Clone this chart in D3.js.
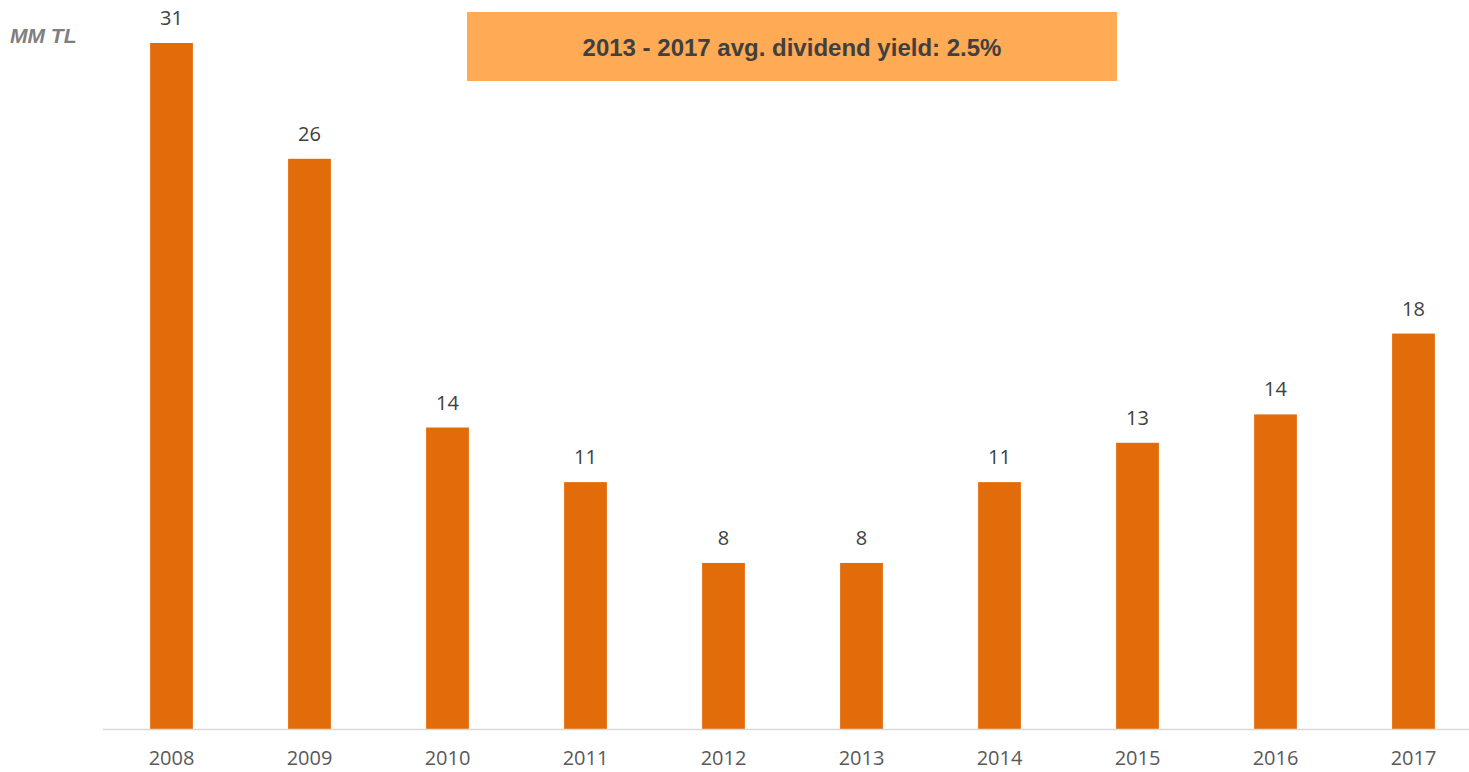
<!DOCTYPE html>
<html>
<head>
<meta charset="utf-8">
<script src="https://cdn.jsdelivr.net/npm/d3@7"></script>
<style>
  body { margin: 0; background: #fff; }
  svg { display: block; }
</style>
</head>
<body>
<svg id="chart" width="1469" height="772"></svg>
<script>
const years = ["2008", "2009", "2010", "2011", "2012", "2013", "2014", "2015", "2016", "2017"];
const dividends = [31.4, 26.1, 13.8, 11.3, 7.6, 7.6, 11.3, 13.1, 14.4, 18.1];
const unitLabel = "MM TL";
const noteText = "2013 - 2017 avg. dividend yield: 2.5%";

const svg = d3.select("#chart");
const baseY = 729;

const x = d3.scaleBand()
    .domain(years)
    .range([102.5, 1482.5])
    .paddingInner(0.69)
    .paddingOuter(0.345);

const y = d3.scaleLinear()
    .domain([0, 31.4])
    .range([baseY, 43]);

// bars
svg.selectAll("rect.bar")
    .data(years)
    .enter().append("rect")
    .attr("class", "bar")
    .attr("x", d => x(d))
    .attr("width", x.bandwidth())
    .attr("y", (d, i) => y(dividends[i]))
    .attr("height", (d, i) => baseY - y(dividends[i]))
    .attr("fill", "#E36C0A");

// value labels
svg.selectAll("text.val")
    .data(years)
    .enter().append("text")
    .attr("class", "val")
    .attr("x", d => x(d) + x.bandwidth() / 2)
    .attr("y", (d, i) => y(dividends[i]) - 18)
    .attr("text-anchor", "middle")
    .attr("font-family", "'Open Sans', sans-serif")
    .attr("font-size", 20)
    .attr("fill", "#404040")
    .text((d, i) => Math.round(dividends[i]));

// x axis
const xAxis = svg.append("g")
    .attr("transform", `translate(0,${baseY})`)
    .call(d3.axisBottom(x).tickSize(0).tickPadding(22));
xAxis.select(".domain").attr("stroke", "#d9d9d9").attr("stroke-width", 1.5);
xAxis.selectAll("text")
    .attr("font-family", "'Open Sans', sans-serif")
    .attr("font-size", 20)
    .attr("fill", "#595959");

// unit label
svg.append("text")
    .attr("x", 10)
    .attr("y", 43)
    .attr("font-family", "Arial, 'Liberation Sans', sans-serif")
    .attr("font-size", 21)
    .attr("font-weight", "bold")
    .attr("font-style", "italic")
    .attr("fill", "#7f7f7f")
    .text(unitLabel);

// note box
svg.append("rect")
    .attr("x", 467)
    .attr("y", 12)
    .attr("width", 650)
    .attr("height", 69)
    .attr("fill", "#FFAA55");
svg.append("text")
    .attr("x", 792)
    .attr("y", 56)
    .attr("text-anchor", "middle")
    .attr("font-family", "Arial, 'Liberation Sans', sans-serif")
    .attr("font-size", 24)
    .attr("font-weight", "bold")
    .attr("fill", "#404040")
    .text(noteText);
</script>
</body>
</html>
